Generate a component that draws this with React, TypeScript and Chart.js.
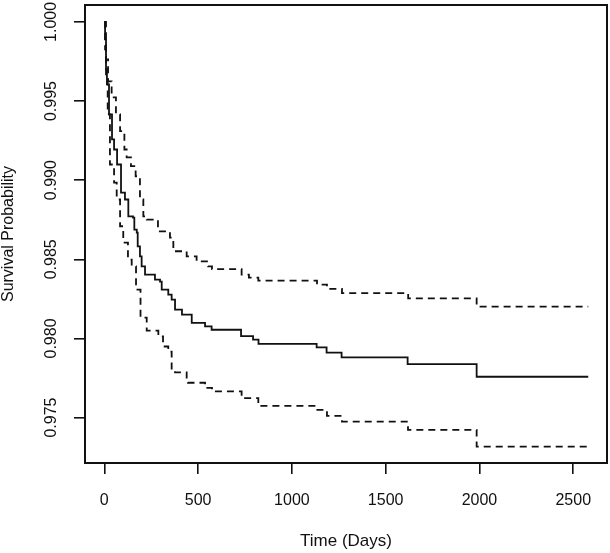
import React, { useEffect, useRef, useState } from 'react';
import { Chart, registerables } from 'chart.js';

Chart.register(...registerables);

// Kaplan-Meier estimate (time in days, survival probability)
const estTimes = [0, 4, 9, 14, 25, 41, 52, 68, 89, 110, 128, 153, 160, 173, 178, 190, 199, 217, 270, 297, 306, 341, 359, 377, 414, 466, 537, 572, 729, 793, 822, 1132, 1185, 1265, 1617, 1985, 2580];
const estSurv = [1.0, 0.99891, 0.99701, 0.99606, 0.99416, 0.99258, 0.99194, 0.99099, 0.98922, 0.98878, 0.98772, 0.98764, 0.98688, 0.98669, 0.98582, 0.98519, 0.98456, 0.98403, 0.98372, 0.98359, 0.98308, 0.98277, 0.98245, 0.98182, 0.9815, 0.98098, 0.98076, 0.98055, 0.98015, 0.97992, 0.97966, 0.97943, 0.97911, 0.9788, 0.97838, 0.97758, 0.97758];

// Upper confidence limit
const upperTimes = [0, 9, 20, 39, 62, 84, 107, 119, 142, 167, 190, 208, 226, 286, 350, 368, 439, 492, 553, 574, 732, 771, 821, 1134, 1187, 1267, 1620, 1985, 2580];
const upperSurv = [1.0, 0.99764, 0.99625, 0.99523, 0.99416, 0.9931, 0.99194, 0.99144, 0.99089, 0.99025, 0.98878, 0.98772, 0.98751, 0.98677, 0.98637, 0.98551, 0.98519, 0.98487, 0.98456, 0.98438, 0.98403, 0.98384, 0.98365, 0.9834, 0.98313, 0.98287, 0.98253, 0.98201, 0.98201];

// Lower confidence limit
const lowerTimes = [0, 4, 9, 18, 30, 52, 66, 84, 101, 126, 146, 169, 193, 226, 288, 313, 341, 359, 377, 439, 446, 537, 574, 732, 821, 1128, 1187, 1267, 1619, 1985, 2580];
const lowerSurv = [1.0, 0.99827, 0.99637, 0.99416, 0.99099, 0.98985, 0.98878, 0.98709, 0.98606, 0.98498, 0.98456, 0.98308, 0.98131, 0.98049, 0.98013, 0.97949, 0.97916, 0.97802, 0.97786, 0.97739, 0.9772, 0.97688, 0.97666, 0.97623, 0.97574, 0.97549, 0.97511, 0.97475, 0.97422, 0.97317, 0.97317];

const xTicks = [0, 500, 1000, 1500, 2000, 2500];
const yTicks = [0.975, 0.98, 0.985, 0.99, 0.995, 1.0];
const xTitle = 'Time (Days)';
const yTitle = 'Survival Probability';

const FONT = '"Liberation Sans", Arial, Helvetica, sans-serif';
const INK = '#111111';
const X_MIN = -103;
const X_MAX = 2680;
const Y_MIN = 0.97213;
const Y_MAX = 1.00107;

const toPoints = (t: number[], s: number[]) => t.map((x, i) => ({ x, y: s[i] }));

// box around the plotting region
const framePlugin = {
  id: 'frame',
  afterDraw(chart: any) {
    const ctx = chart.ctx;
    const a = chart.chartArea;
    ctx.save();
    ctx.setLineDash([]);
    ctx.strokeStyle = INK;
    ctx.lineWidth = 2;
    ctx.strokeRect(a.left, a.top, a.right - a.left, a.bottom - a.top);
    ctx.restore();
  },
};

type Area = { left: number; top: number; width: number; height: number };

export default function App() {
  const ref = useRef<HTMLCanvasElement | null>(null);
  const [area, setArea] = useState<Area | null>(null);

  useEffect(() => {
    if (!ref.current) return;
    const lineBase = {
      stepped: true as const,
      pointRadius: 0,
      borderColor: INK,
      borderWidth: 1.8,
      tension: 0,
    };
    const chart = new Chart(ref.current, {
      type: 'line',
      data: {
        datasets: [
          { ...lineBase, label: 'upper', data: toPoints(upperTimes, upperSurv), borderDash: [7, 5] },
          { ...lineBase, label: 'lower', data: toPoints(lowerTimes, lowerSurv), borderDash: [7, 5] },
          { ...lineBase, label: 'estimate', data: toPoints(estTimes, estSurv) },
        ],
      },
      options: {
        animation: false,
        responsive: false,
        devicePixelRatio: 1,
        layout: { padding: { left: 0, top: 5, right: 3, bottom: 0 } },
        plugins: { legend: { display: false }, tooltip: { enabled: false } },
        scales: {
          x: {
            type: 'linear',
            min: X_MIN,
            max: X_MAX,
            afterBuildTicks: (s: any) => { s.ticks = xTicks.map((v) => ({ value: v })); },
            afterFit: (s: any) => { s.height = 90; s.paddingLeft = 0; s.paddingRight = 0; },
            grid: { display: true, drawOnChartArea: false, drawTicks: true, tickLength: 11, color: INK, lineWidth: 1.6 },
            border: { display: true, color: INK, width: 2 },
            ticks: {
              font: { family: FONT, size: 16 },
              color: INK,
              padding: 17,
              maxRotation: 0,
              minRotation: 0,
              callback: (v: any) => String(v),
            },
            title: {
              display: true,
              text: xTitle,
              font: { family: FONT, size: 17 },
              color: INK,
              padding: { top: 0, bottom: 1 },
            },
          },
          y: {
            type: 'linear',
            min: Y_MIN,
            max: Y_MAX,
            afterBuildTicks: (s: any) => { s.ticks = yTicks.map((v) => ({ value: v })); },
            afterFit: (s: any) => { s.width = 85; s.paddingTop = 0; s.paddingBottom = 0; },
            grid: { display: true, drawOnChartArea: false, drawTicks: true, tickLength: 11, color: INK, lineWidth: 1.6 },
            border: { display: true, color: INK, width: 2 },
            ticks: {
              font: { family: FONT, size: 16 },
              color: INK,
              padding: 2,
              minRotation: 90,
              maxRotation: 90,
              crossAlign: 'center',
              callback: (v: any) => Number(v).toFixed(3),
            },
            title: {
              display: true,
              text: yTitle,
              font: { family: FONT, size: 16, lineHeight: 1 },
              color: INK,
              padding: { top: 1, bottom: 0 },
            },
          },
        },
      },
      plugins: [framePlugin],
    });
    const a = chart.chartArea;
    setArea({ left: a.left, top: a.top, width: a.right - a.left, height: a.bottom - a.top });
    return () => chart.destroy();
  }, []);

  return (
    <div style={{ position: 'absolute', left: 0, top: 0, width: 610, height: 553 }}>
      <canvas ref={ref} width={610} height={553} style={{ width: 610, height: 553, display: 'block' }} />
      {area && (
        <div
          style={{
            position: 'absolute',
            left: area.left - 1,
            top: area.top - 1,
            width: area.width + 2,
            height: area.height + 2,
            border: `2px solid ${INK}`,
            boxSizing: 'border-box',
            pointerEvents: 'none',
          }}
        />
      )}
    </div>
  );
}
